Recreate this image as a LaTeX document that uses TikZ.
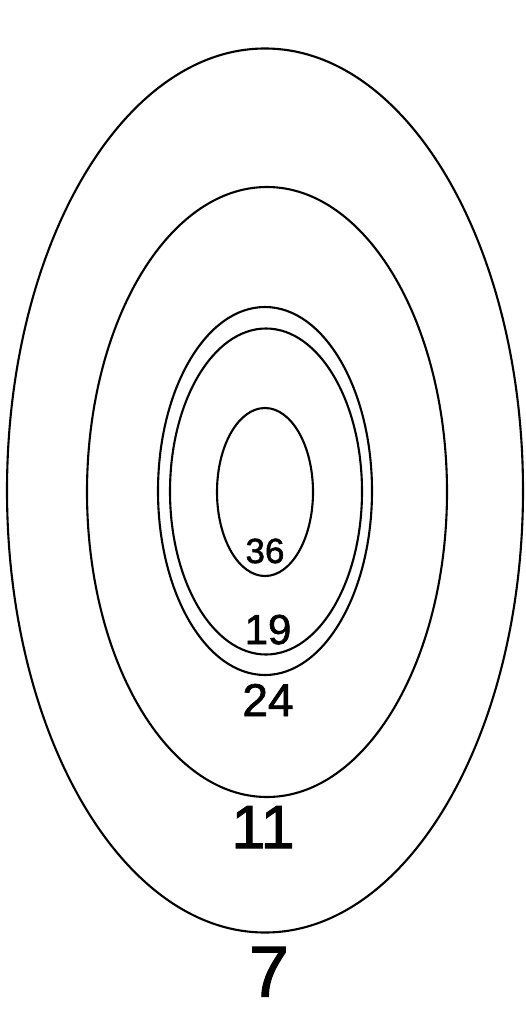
\documentclass[tikz,border=0pt]{standalone}
\usepackage{fontspec}
\setmainfont{Liberation Sans}
\newfontfamily\numfont{Liberation Sans}[FakeBold=1.5]
\usetikzlibrary{shapes.geometric}

\tikzset{
  ring/.style={draw, ellipse, inner sep=0pt, line width=2.1pt},
  num/.style={anchor=base, inner sep=0pt},
}

\begin{document}
\begin{tikzpicture}[x=1pt, y=-1pt]
	\useasboundingbox (0,0) rectangle (526,1011);

	% rings
	\node[ring, minimum width=516pt, minimum height=884pt] (ring7)  at (265,490.5) {};
	\node[ring, minimum width=360pt, minimum height=610pt] (ring11) at (267,492) {};
	\node[ring, minimum width=214pt, minimum height=368pt] (ring24) at (265,491) {};
	\node[ring, minimum width=192pt, minimum height=326pt] (ring19) at (266,491.5) {};
	\node[ring, minimum width=96pt,  minimum height=168pt] (ring36) at (265,492) {};

	% counts
	\node[num, font=\fontsize{35}{35}\numfont] (n36) at ([yshift=14pt]ring36.south) {36};
	\node[num, font=\fontsize{42}{42}\numfont] (n19) at ([xshift=2pt, yshift=11.5pt]ring19.south) {19};
	\node[num, font=\fontsize{46}{46}\numfont] (n24) at ([xshift=3pt, yshift=-40pt]ring24.south) {24};
	\node[num, font=\fontsize{61}{61}\numfont] (n11) at ([xshift=-4pt, yshift=-50pt]ring11.south) {11};
	\node[num, font=\fontsize{72}{72}\numfont] (n7)  at ([xshift=4pt, yshift=-63pt]ring7.south) {7};
\end{tikzpicture}
\end{document}
